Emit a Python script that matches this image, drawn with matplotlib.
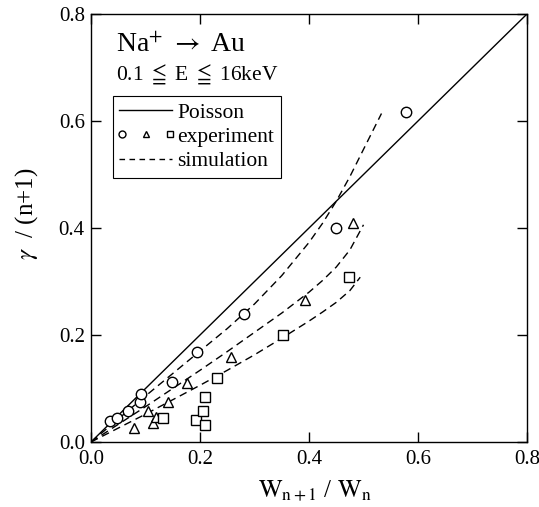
import matplotlib
matplotlib.use("Agg")
import matplotlib.pyplot as plt
from matplotlib.lines import Line2D
from matplotlib.legend_handler import HandlerTuple

plt.rcParams["font.family"] = ["Liberation Serif", "DejaVu Serif"]
plt.rcParams["mathtext.fontset"] = "stix"

# Experimental points (three data sets)
circ_x = [0.035, 0.047, 0.068, 0.090, 0.091, 0.148, 0.194, 0.280, 0.449, 0.578]
circ_y = [0.040, 0.045, 0.058, 0.074, 0.090, 0.113, 0.169, 0.240, 0.400, 0.616]

tri_x = [0.078, 0.105, 0.113, 0.120, 0.141, 0.177, 0.256, 0.393, 0.481]
tri_y = [0.026, 0.058, 0.036, 0.047, 0.074, 0.110, 0.159, 0.266, 0.410]

sq_x = [0.133, 0.193, 0.206, 0.209, 0.210, 0.232, 0.353, 0.474]
sq_y = [0.045, 0.042, 0.058, 0.084, 0.032, 0.120, 0.200, 0.309]

# Poisson prediction
poisson_x = [0.0, 0.8]
poisson_y = [0.0, 0.8]

# Simulation curves
sim1_x = [0.0, 0.05, 0.10, 0.15, 0.20, 0.25, 0.30, 0.35, 0.40, 0.425, 0.45, 0.475, 0.50, 0.533]
sim1_y = [0.0, 0.043, 0.086, 0.128, 0.170, 0.212, 0.258, 0.311, 0.373, 0.409, 0.450, 0.496, 0.547, 0.614]

sim2_x = [0.0, 0.10, 0.20, 0.25, 0.30, 0.35, 0.40, 0.425, 0.45, 0.475, 0.50]
sim2_y = [0.0, 0.066, 0.134, 0.169, 0.205, 0.241, 0.280, 0.302, 0.327, 0.359, 0.406]

sim3_x = [0.0, 0.10, 0.20, 0.25, 0.30, 0.35, 0.40, 0.425, 0.45, 0.475, 0.494]
sim3_y = [0.0, 0.052, 0.106, 0.134, 0.163, 0.194, 0.226, 0.243, 0.261, 0.283, 0.308]

ticks = [0.0, 0.2, 0.4, 0.6, 0.8]
tick_labels = ["0.0", "0.2", "0.4", "0.6", "0.8"]

W, H = 539, 507
fig = plt.figure(figsize=(W / 100, H / 100), dpi=100)
ax = fig.add_axes([91 / W, 1 - 442 / H, 436 / W, 428 / H])

lw = 1.0
ax.plot(poisson_x, poisson_y, color="black", lw=lw)
dash = (0, (5.5, 3.5))
for sx, sy in [(sim1_x, sim1_y), (sim2_x, sim2_y), (sim3_x, sim3_y)]:
    ax.plot(sx, sy, color="black", lw=lw, linestyle=dash)

mk = dict(linestyle="none", markerfacecolor="white", markeredgecolor="black",
          markeredgewidth=1.0)
ax.plot(circ_x, circ_y, marker="o", markersize=7.5, **mk)
ax.plot(tri_x, tri_y, marker="^", markersize=7.5, **mk)
ax.plot(sq_x, sq_y, marker="s", markersize=7, **mk)

ax.set_xlim(0, 0.8)
ax.set_ylim(0, 0.8)
ax.set_xticks(ticks)
ax.set_yticks(ticks)
ax.set_xticklabels(tick_labels)
ax.set_yticklabels(tick_labels)
ax.tick_params(direction="in", length=7, width=1, top=True, right=True,
               labelsize=15)
ax.tick_params(axis="x", pad=5.5)
ax.tick_params(axis="y", pad=4.5)
for s in ax.spines.values():
    s.set_linewidth(1.0)

fig.text(315 / W, 1 - 497 / H,
         r"$\mathrm{W}_{\mathrm{n+1}}$ / $\mathrm{W}_{\mathrm{n}}$",
         fontsize=18, ha="center", va="baseline")
fig.text(27 / W, 1 - 214 / H, r"$\gamma$  / (n+1)", fontsize=18,
         rotation=90, ha="center", va="center")

ax.text(0.058, (442 - 52) / 428, r"Na$^{+}$ $\rightarrow$ Au",
        transform=ax.transAxes, fontsize=20, va="baseline")
ax.text(0.058, (442 - 80) / 428, r"0.1 $\leqq$ E $\leqq$ 16keV",
        transform=ax.transAxes, fontsize=15.5, va="baseline")

mkl = dict(linestyle="none", markerfacecolor="white", markeredgecolor="black",
           markeredgewidth=1.0, markersize=5)
h_poisson = Line2D([], [], color="black", lw=lw)
h_exp = (Line2D([], [], marker="o", **mkl), Line2D([], [], marker="^", **mkl),
         Line2D([], [], marker="s", **mkl))
h_sim = Line2D([], [], color="black", lw=lw, linestyle=(0, (4, 3.2)))
leg = ax.legend([h_poisson, h_exp, h_sim], ["Poisson", "experiment", "simulation"],
                handler_map={tuple: HandlerTuple(ndivide=None, pad=0.9)},
                loc="upper left", bbox_to_anchor=((113 - 91) / 436, (442 - 96) / 428),
                fontsize=15.5, frameon=True, fancybox=False, edgecolor="black",
                framealpha=1, borderpad=0.3, handlelength=2.45, handletextpad=0.25,
                labelspacing=0.2, borderaxespad=0)
leg.get_frame().set_linewidth(0.8)

fig.savefig("out.png", dpi=100)
